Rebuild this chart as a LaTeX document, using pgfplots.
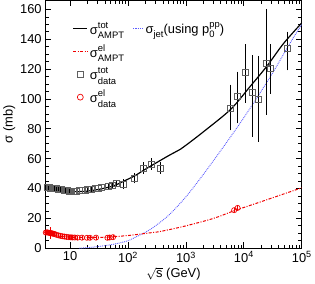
\documentclass[border=0pt]{standalone}
\usepackage{fontspec}
\setmainfont{Liberation Sans}
\usepackage{amsmath}
\usepackage{pgfplots}
\pgfplotsset{compat=1.18}
\definecolor{jetblue}{RGB}{90,90,255}
\definecolor{elred}{RGB}{240,0,0}
\definecolor{sqgray}{RGB}{95,95,95}
\newcommand{\scr}[2]{\begingroup\fontsize{9.5}{11}\selectfont
  \setbox0\hbox{#1}\setbox2\hbox{#2}%
  \ifdim\wd0>\wd2 \rlap{\raisebox{-4.5pt}{\box2}}\raisebox{6pt}{\box0}%
  \else\rlap{\raisebox{6pt}{\box0}}\raisebox{-4.5pt}{\box2}\fi\endgroup}
\newcommand{\sub}[1]{\raisebox{-4.5pt}{\fontsize{9.5}{11}\selectfont #1}}
\pgfplotsset{
  shortline/.style={legend image code/.code={\draw[##1] (0cm,0cm) -- (0.5cm,0cm);}},
  tinyline/.style={legend image code/.code={\draw[##1] (0.15cm,0cm) -- (0.5cm,0cm);}},
  onemark/.style={legend image code/.code={\draw[##1] plot coordinates {(0.25cm,0cm)};}},
}
\begin{document}
\begin{tikzpicture}
\begin{axis}[
  scale only axis, width=259pt, height=250pt,
  xmode=log, xmin=3.7, xmax=1e5, ymin=0, ymax=166,
  xtick={10,100,1000,10000,100000},
  xticklabels={10,10\textsuperscript{2},10\textsuperscript{3},10\textsuperscript{4},10\textsuperscript{5}},
  ytick={0,20,...,160}, minor y tick num=3,
  tick align=inside, major tick length=6pt, minor tick length=3.5pt,
  every tick/.style={black, line width=0.8pt},
  axis line style={line width=1pt},
  font=\fontsize{13}{15}\selectfont,
  /pgf/number format/assume math mode=true,
  xlabel={$\sqrt{\text{s}}$ (GeV)}, ylabel={σ (mb)},
  xlabel style={yshift=2pt}, ylabel style={yshift=-2pt},
  legend columns=2,
  legend cell align=left,
  legend style={draw=none, fill=none, at={(0.095,0.93)}, anchor=north west,
    font=\fontsize{13}{15}\selectfont, row sep=5pt,
    /tikz/every even column/.append style={column sep=3pt}},
]
% legend entries
\addlegendimage{shortline, black, line width=1.2pt}
\addlegendentry{σ\scr{tot}{AMPT}}
\addlegendimage{tinyline, jetblue, densely dotted, line width=1.2pt}
\addlegendentry{σ\sub{jet}(using p\scr{pp}{0})}
\addlegendimage{shortline, elred, line width=1.1pt, dash pattern=on 3pt off 1.5pt on 1pt off 1.5pt}
\addlegendentry{σ\scr{el}{AMPT}}
\addlegendimage{empty legend}
\addlegendentry{}
\addlegendimage{onemark, only marks, mark=square, mark size=3pt, sqgray, mark options={fill=white, line width=0.7pt}}
\addlegendentry{σ\scr{tot}{data}}
\addlegendimage{empty legend}
\addlegendentry{}
\addlegendimage{onemark, only marks, mark=o, mark size=3pt, elred, mark options={line width=0.7pt}}
\addlegendentry{σ\scr{el}{data}}

% jet cross section
\addplot[forget plot, jetblue, densely dotted, line width=0.9pt, smooth] coordinates {
(14.5,0) (20,0.4) (30,1.1) (50,2.3) (77,3.8) (100,5) (195,10.5) (252,13)
(500,22) (1000,34.5) (2000,49.5) (4000,65.5) (8000,82) (16000,99.5) (32000,118) (64000,138) (100000,150)};

% AMPT elastic
\addplot[forget plot, elred, line width=1pt, dash pattern=on 3pt off 1.5pt on 1pt off 1.5pt, smooth] coordinates {
(3.7,9.5) (5,8.6) (7,7.9) (10,7.4) (15,7.2) (25,7.2) (40,7.4) (60,7.8) (100,8.5) (130,9)
(250,10.4) (370,11.3) (1000,15) (3000,20) (6700,25) (25000,32.5) (100000,40.5)};

% AMPT total
\addplot[forget plot, black, line width=1.2pt, smooth] coordinates {
(3.7,40.8) (5,39.8) (7,38.8) (10,38.1) (14,37.9) (20,38.3) (30,39.3) (45,40.8) (60,42.2)
(83,44.8) (130,48.5) (200,53) (300,57) (500,62) (815,66.5) (1040,69.5) (2000,78)
(5900,93) (12900,108.5) (25000,122) (48000,137) (100000,151)};

% total data
\addplot[forget plot, only marks, mark=square, mark size=3pt, sqgray, mark options={fill=white, line width=0.7pt},
  error bars/.cd, y dir=both, y explicit,
  error bar style={black, line width=0.9pt}, error mark options={black, mark size=2pt, line width=0.9pt}]
  table[x=x, y=y, y error plus=ep, y error minus=em] {
x y ep em
4.0 40.8 0.6 0.6
4.3 40.5 0.5 0.5
4.6 40.3 0.5 0.5
5.0 40.2 0.5 0.5
5.4 40.0 0.5 0.5
5.8 39.9 0.5 0.5
6.2 39.6 0.5 0.5
6.7 39.4 0.5 0.5
7.2 39.2 0.5 0.5
7.8 38.9 0.5 0.5
8.4 38.7 0.5 0.5
9.0 38.6 0.5 0.5
9.7 38.4 0.6 0.6
10.4 38.3 0.6 0.6
11.2 38.2 0.6 0.6
12.0 38.3 0.6 0.6
13.0 38.4 0.6 0.6
14.5 38.5 0.6 0.6
16.0 38.7 0.6 0.6
18.0 39.0 0.6 0.6
20.0 39.3 0.6 0.6
23.5 39.5 0.6 0.6
27.0 40.1 0.6 0.6
30.6 40.3 0.6 0.6
35.0 40.8 0.6 0.6
45.0 41.7 0.7 0.7
52.8 42.4 0.7 0.7
62.7 43.2 0.8 0.8
83 43.0 2.0 2.0
130 47.0 2.2 2.2
182 53.8 2.5 2.5
252 56.5 2.5 2.5
364 53.8 2.5 2.5
5900 93.8 14.5 13.5
7800 102 15 17
10600 117.8 17.7 19.1
13800 104.2 23.8 28.2
17800 100 27.5 27.3
24300 124 35 33.3
29000 120.5 15 15.5
56000 133.8 10 13.3
};

% elastic data
\addplot[forget plot, only marks, mark=o, mark size=2.6pt, elred, mark options={line width=0.7pt},
  error bars/.cd, y dir=both, y explicit,
  error bar style={elred, line width=0.7pt}, error mark options={elred, mark size=1.5pt}]
  table[x=x, y=y, y error plus=e, y error minus=e] {
x y e
3.8 10.5 0.8
4.0 10.7 0.8
4.2 10.4 0.8
4.4 10.3 0.8
4.6 10.2 2.8
4.8 10.0 0.8
5.0 9.8 0.8
5.2 9.7 0.8
5.4 9.5 0.8
5.8 9.0 0.7
6.3 8.6 0.7
6.8 8.3 0.7
7.4 8.0 0.6
8.0 7.8 0.6
8.7 7.6 0.6
9.5 7.4 0.5
10.3 7.3 0.5
11.0 7.2 0.4
12.0 7.2 0.4
13.5 7.1 0.4
16 7.1 0.4
19.5 7.0 0.4
22 7.0 0.4
28 7.1 0.4
44 7.0 0.4
48 7.2 0.4
55 7.4 0.4
6800 25.5 0.5
7800 27.0 0.5
};
\end{axis}
\end{tikzpicture}
\end{document}
